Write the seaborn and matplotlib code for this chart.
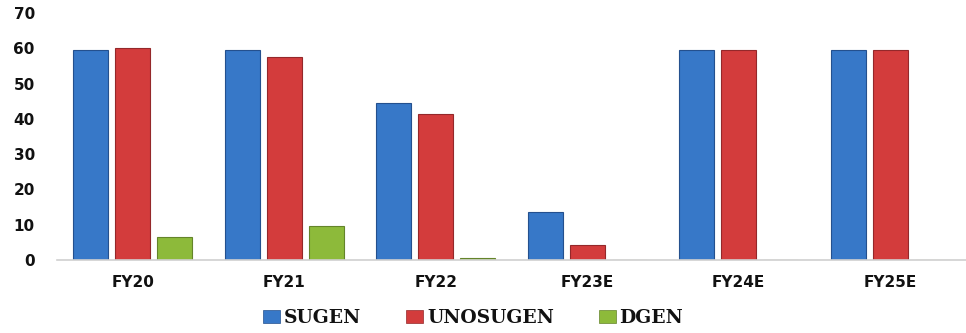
"""Grouped bar chart: SUGEN / UNOSUGEN / DGEN by fiscal year."""

import matplotlib

matplotlib.use("Agg")
import matplotlib.pyplot as plt  # noqa: E402
import pandas as pd  # noqa: E402
import seaborn as sns  # noqa: E402

years = ["FY20", "FY21", "FY22", "FY23E", "FY24E", "FY25E"]
sugen = [59.5, 59.5, 44.5, 13.6, 59.5, 59.5]
unosugen = [60.0, 57.5, 41.3, 4.2, 59.5, 59.5]
dgen = [6.4, 9.6, 0.5, 0.0, 0.0, 0.0]
series = ["SUGEN", "UNOSUGEN", "DGEN"]
colors = ["#3778C8", "#D33C3C", "#8DBA3A"]
edges = ["#24508E", "#94282A", "#64842A"]

df = pd.DataFrame({"year": years, "SUGEN": sugen, "UNOSUGEN": unosugen, "DGEN": dgen})
long = df.melt(id_vars="year", var_name="series", value_name="value")

sns.set_style("white")
fig = plt.figure(figsize=(9.66, 3.33), dpi=100)
ax = fig.add_axes([0.059, 0.219, 0.941, 0.742])

sns.barplot(
    data=long,
    x="year",
    y="value",
    hue="series",
    hue_order=series,
    palette=colors,
    saturation=1,
    width=0.83,
    gap=0.17,
    ax=ax,
    legend=False,
)

for container, ec in zip(ax.containers, edges):
    for bar in container:
        bar.set_edgecolor(ec)
        bar.set_linewidth(0.8)

ax.set_ylim(0, 70)
ax.set_xlim(-0.5, len(years) - 0.5)
ax.set_yticks(range(0, 71, 10))
ax.set_xlabel("")
ax.set_ylabel("")
ax.tick_params(axis="both", length=0, labelsize=11, labelcolor="#111111")
ax.tick_params(axis="y", pad=16)
ax.tick_params(axis="x", pad=11)
for lbl in ax.get_xticklabels() + ax.get_yticklabels():
    lbl.set_fontweight("bold")
    lbl.set_family("DejaVu Sans")
sns.despine(ax=ax, left=True)
ax.spines["bottom"].set_color("#d0d0d0")
ax.spines["bottom"].set_linewidth(1.2)

handles = [
    plt.Rectangle((0, 0), 1, 1, facecolor=c, edgecolor=e, linewidth=0.5)
    for c, e in zip(colors, edges)
]
leg = fig.legend(
    handles,
    series,
    loc="center",
    bbox_to_anchor=(0.49, 0.045),
    ncol=3,
    frameon=False,
    handlelength=0.9,
    handleheight=0.65,
    handletextpad=0.2,
    columnspacing=2.4,
    prop={"family": "DejaVu Serif", "weight": "bold", "size": 13.5},
)
for t in leg.get_texts():
    t.set_color("#111111")

fig.savefig("out.png", dpi=100)
